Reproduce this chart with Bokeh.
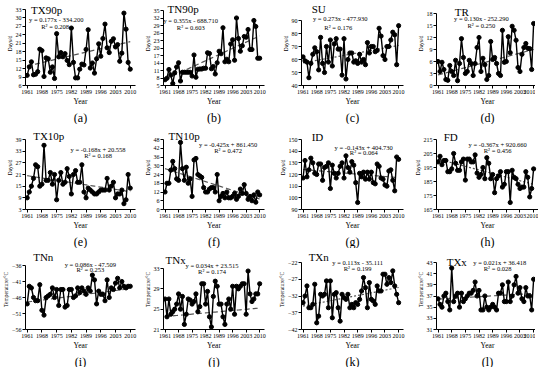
from bokeh.plotting import figure
from bokeh.layouts import gridplot
from bokeh.models import Range1d, FixedTicker, Label, Title
from bokeh.embed import file_html
from bokeh.resources import INLINE

years = list(range(1961, 2011))
year_ticks = [1961, 1968, 1975, 1982, 1989, 1996, 2003, 2010]

tx90p = [9.6, 12.6, 14.4, 9.8, 10.0, 10.9, 18.9, 18.4, 9.2, 15.8, 15.5, 10.7, 12.6, 8.5, 24.4, 16.2, 17.7, 16.2, 17.3, 14.9,
         13.4, 26.4, 14.2, 8.7, 8.7, 11.8, 13.6, 13.3, 18.8, 25.8, 12.2, 14.0, 10.4, 15.5, 20.8, 16.4, 22.7, 27.8, 19.4, 17.7,
         21.7, 22.6, 19.7, 20.5, 14.6, 17.5, 31.7, 26.0, 14.2, 11.8]
tn90p = [7.3, 7.9, 11.4, 9.2, 5.8, 10.1, 12.4, 14.1, 6.8, 10.3, 10.3, 10.3, 10.3, 10.3, 8.8, 17.2, 8.3, 11.5, 11.6, 11.6,
         11.9, 11.9, 18.1, 17.8, 11.7, 12.6, 9.6, 14.1, 18.7, 17.7, 28.1, 14.5, 15.5, 14.5, 21.6, 23.3, 15.1, 32.0, 23.8, 18.7,
         20.9, 24.6, 24.3, 27.4, 19.4, 19.4, 31.0, 28.6, 15.9, 15.9]
su = [62, 59, 58, 46, 57, 64, 69, 66, 52, 77, 57, 50, 70, 58, 75, 55, 72, 76, 68, 68,
      48, 76, 45, 60, 65, 65, 58, 59, 57, 64, 58, 60, 56, 73, 65, 70, 70, 66, 67, 84,
      78, 63, 60, 70, 70, 75, 81, 79, 56, 86]
tr = [6.0, 3.5, 5.8, 4.0, 1.5, 1.3, 5.0, 3.5, 2.5, 6.3, 1.2, 5.5, 11.7, 7.0, 3.0, 3.5, 6.3, 5.5, 2.5, 5.5,
      9.5, 12.0, 3.5, 6.8, 5.2, 1.5, 2.5, 11.0, 6.5, 7.0, 5.5, 3.0, 2.5, 13.8, 5.8, 6.0, 12.2, 8.2, 14.8, 13.8,
      11.3, 4.5, 3.5, 7.8, 9.5, 10.5, 9.3, 9.2, 4.0, 15.5]
tx10p = [9, 12, 15, 19, 26, 25, 15, 16, 36, 18, 18, 22, 16, 21, 8, 18, 22, 16, 17, 24,
         20, 11, 21, 23, 17, 17, 26, 12, 9, 14, 13, 12, 11, 11, 12, 13, 13, 13, 19, 13,
         15, 17, 9, 11, 11, 13, 6, 8, 21, 14]
tn10p = [12, 18, 18, 27, 33, 28, 21, 20, 46, 28, 20, 29, 18, 21, 9, 34, 35, 24, 23, 22,
         15, 12, 12, 14, 15, 15, 12, 24, 6, 9, 11, 8, 12, 8, 8, 9, 11, 7, 9, 14,
         11, 17, 11, 7, 9, 6, 10, 5, 12, 10]
id_days = [117, 132, 118, 124, 134, 130, 121, 120, 129, 129, 115, 126, 127, 130, 108, 128, 121, 117, 121, 127,
           130, 117, 136, 126, 122, 131, 128, 113, 96, 121, 118, 122, 116, 122, 116, 122, 113, 112, 129, 127,
           117, 116, 111, 110, 123, 124, 115, 106, 135, 133]
fd = [199, 203, 197, 200, 200, 192, 192, 194, 205, 198, 193, 193, 199, 201, 186, 201, 201, 199, 199, 204,
      191, 188, 190, 195, 187, 202, 198, 187, 190, 177, 187, 189, 192, 181, 183, 192, 192, 170, 193, 188,
      187, 183, 180, 181, 181, 192, 188, 174, 180, 194]
tnn = [-48, -42.5, -43, -46, -47, -47, -42, -50, -51.5, -46, -45.5, -45, -43, -46, -43.5, -48.5, -43.5, -43.5, -49, -48.5,
       -43.5, -43.5, -46, -45.5, -43, -44.5, -43, -44, -45, -43, -44, -39, -40.5, -48, -44, -45, -45, -47, -40.5, -46,
       -43, -43.5, -41.5, -40, -43, -41, -42.5, -43, -42.5, -42.5]
tnx = [27, 23.5, 27, 24, 24.5, 25, 26, 28, 25, 27.5, 22, 24, 27, 26.8, 26, 26.5, 28, 24.5, 25.5, 30,
       30, 26, 28.5, 23.5, 21.5, 27.5, 30.5, 29.5, 26, 26, 23.5, 22, 26, 27, 25, 29.5, 24, 29.5, 29, 29.5,
       30, 30, 24, 32.5, 28, 26.5, 27, 28, 28, 30]
txn = [-34, -32, -29, -35.5, -35.5, -34.5, -28.5, -40, -38, -31.5, -32, -31.5, -27.5, -35.5, -27.5, -38.5, -31.5, -31, -35.5, -39.5,
       -31.5, -32.5, -33, -31.5, -35.5, -34.5, -35.5, -34, -34.5, -33, -30.5, -26.5, -29.5, -35.5, -28, -33, -33.5, -34.5, -29, -30.5,
       -30.5, -25.5, -25.5, -28.5, -26.5, -28, -24.5, -29, -31.5, -34]
txx = [36.5, 35.5, 35, 37, 37.5, 36, 34.5, 42, 36, 37, 37.5, 35, 37.5, 36, 36.5, 37, 37.5, 37.5, 38, 39.5,
       37, 38, 34.5, 34.5, 37, 35, 34.5, 35, 35.5, 35, 34.5, 37.5, 37.5, 39, 36, 36, 39.5, 36, 37, 39,
       40.5, 37.5, 38.5, 36.5, 36, 38.5, 37, 37, 34.5, 40]

names = ["TX90p", "TN90p", "SU", "TR", "TX10p", "TN10p", "ID", "FD", "TNn", "TNx", "TXn", "TXx"]
tags = ["(a)", "(b)", "(c)", "(d)", "(e)", "(f)", "(g)", "(h)", "(i)", "(j)", "(k)", "(l)"]
series = [tx90p, tn90p, su, tr, tx10p, tn10p, id_days, fd, tnn, tnx, txn, txx]
ylabels = ["Days/d"] * 8 + ["Temperature/\u00b0C"] * 4
yticks = [
    [6, 9, 12, 15, 18, 21, 24, 27, 30, 33],
    [5, 8, 11, 14, 17, 20, 23, 26, 29, 32, 35],
    [40, 50, 60, 70, 80, 90],
    [0, 3, 6, 9, 12, 15, 18],
    [3, 9, 15, 21, 27, 33, 39],
    [0, 6, 12, 18, 24, 30, 36, 42, 48],
    [90, 100, 110, 120, 130, 140, 150],
    [165, 175, 185, 195, 205, 215],
    [-56, -51, -46, -41, -36],
    [21, 25, 29, 33],
    [-42, -37, -32, -27, -22],
    [31, 33, 35, 37, 39, 41, 43],
]
slopes = [0.177, 0.355, 0.273, 0.130, -0.168, -0.425, -0.143, -0.367, 0.086, 0.034, 0.113, 0.021]
intercepts = [-334.200, -688.710, -477.930, -252.290, 20.558, 861.450, 404.730, 920.660, -47.509, 23.515, -35.111, 36.418]
r2s = [0.208, 0.603, 0.176, 0.250, 0.168, 0.472, 0.064, 0.456, 0.253, 0.174, 0.199, 0.028]
x_is_year = [True, True, True, True, False, True, True, True, False, False, False, False]

# layout (not data): space above top tick, frame height of tick span, text positions, dashes
tops = [8, 9, 19, 12, 14, 14, 14, 14, 16, 19, 13, 13]
fheights = [76, 75, 65, 72, 70, 70, 70, 70, 64, 61, 67, 67]
col_left = [16, 18, 20, 20]
col_fw = [110, 101, 102, 102]
col_right = [6, 12, 8, 0]
title_pos = [(0.05, 1.00), (0.04, 1.02), (0.10, 1.18), (0.18, 1.02), (0.07, 1.05), (0.05, 1.05),
             (0.10, 1.04), (0.07, 1.04), (0.07, 1.13), (0.02, 1.14), (0.07, 1.08), (0.10, 1.01)]
eq_pos = [(0.28, 0.87), (0.27, 0.87), (0.38, 1.03), (0.44, 0.93), (0.66, 0.86), (0.64, 0.93),
          (0.61, 0.89), (0.60, 0.93), (0.59, 1.01), (0.48, 1.05), (0.55, 1.00), (0.62, 1.00)]
r2_pos = [(0.27, 0.78), (0.27, 0.78), (0.36, 0.90), (0.44, 0.83), (0.66, 0.77), (0.64, 0.85),
          (0.61, 0.82), (0.60, 0.84), (0.59, 0.93), (0.48, 0.95), (0.55, 0.91), (0.60, 0.91)]
dashes = ["5 3", "5 3", "2 2", "5 3", "5 3", "5 3", "5 3", "2 2", "5 3", "5 3", "2 2", "5 3"]

FONT = "Liberation Serif"
X0, X1 = 1960.2, 2012.5


def fmt_eq(a, b):
    sign = "-" if b < 0 else "+"
    return "y = %.3fx %s %.3f" % (a, sign, abs(b))


figs = []
for i in range(12):
    c = i % 4
    yt = yticks[i]
    y0, y1 = yt[0], yt[-1]
    per_px = (y1 - y0) / fheights[i]
    ytop = y1 + tops[i] * per_px
    p = figure(frame_width=col_fw[c], frame_height=fheights[i] + tops[i], title=None,
               output_backend="svg", toolbar_location=None,
               x_range=Range1d(X0, X1), y_range=Range1d(y0, ytop),
               min_border_left=col_left[c], min_border_right=col_right[c],
               min_border_top=1, min_border_bottom=0)
    p.outline_line_color = None
    p.grid.visible = False
    p.background_fill_color = "white"
    p.border_fill_color = "white"

    for ax in (p.xaxis[0], p.yaxis[0]):
        ax.major_tick_out = 3
        ax.major_tick_in = 0
        ax.minor_tick_line_color = None
        ax.major_label_text_font = FONT
        ax.major_label_text_font_size = "6px"
        ax.major_label_text_color = "black"
        ax.major_label_standoff = 1
        ax.axis_line_color = "black"
        ax.major_tick_line_color = "black"
        ax.axis_label_text_font = FONT
        ax.axis_label_text_font_style = "normal"
        ax.axis_label_text_color = "black"
        ax.axis_label_standoff = 0
    p.xaxis.ticker = FixedTicker(ticks=year_ticks)
    p.yaxis.ticker = FixedTicker(ticks=yt)
    p.yaxis.bounds = (y0, y1)
    p.xaxis.axis_label = "Year"
    p.xaxis.axis_label_text_font_size = "7.5px"
    p.yaxis.axis_label = ylabels[i]
    p.yaxis.axis_label_text_font_size = "5.5px"

    # trend line from the printed equation
    xs_t = years if x_is_year[i] else list(range(1, len(years) + 1))
    trend = [slopes[i] * t + intercepts[i] for t in xs_t]
    p.line(years, trend, line_color="#555555", line_width=1.2, line_dash=dashes[i])
    p.line(years, series[i], line_color="black", line_width=1.4)
    p.scatter(years, series[i], size=4.2, color="black")

    def fx(f):
        return X0 + f * (X1 - X0)

    def fy(f):
        return y0 + f * (y1 - y0)

    tx, ty = title_pos[i]
    p.add_layout(Label(x=fx(tx), y=fy(ty), text=names[i], text_font=FONT, text_font_size="11px",
                       text_font_style="normal", text_align="left", text_baseline="middle", text_color="black"))
    ex, ey = eq_pos[i]
    p.add_layout(Label(x=fx(ex), y=fy(ey), text=fmt_eq(slopes[i], intercepts[i]), text_font=FONT,
                       text_font_size="6.5px", text_align="center", text_baseline="middle", text_color="black"))
    rx, ry = r2_pos[i]
    p.add_layout(Label(x=fx(rx), y=fy(ry), text="R\u00b2 = %.3f" % r2s[i], text_font=FONT,
                       text_font_size="6.5px", text_align="center", text_baseline="middle", text_color="black"))

    p.add_layout(Title(text=tags[i], align="center", text_font=FONT, text_font_size="12px",
                       text_font_style="normal", text_color="black", standoff=0), "below")
    figs.append(p)

grid = gridplot(figs, ncols=4, toolbar_location=None)
open("out.html", "w").write(file_html(grid, INLINE))
